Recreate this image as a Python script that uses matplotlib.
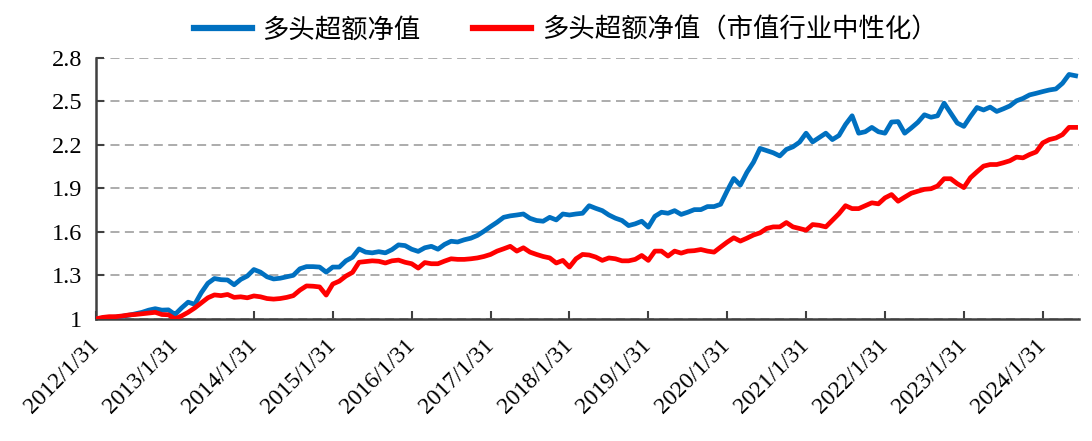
import numpy as np
import pandas as pd
import matplotlib
matplotlib.use("Agg")
import matplotlib.pyplot as plt

# ── 1. Data (monthly) ─────────────────────────────────────────────────────────
dates = pd.date_range("2012-01-31", periods=150, freq="ME")

blue_nav = [
    1.000, 1.005, 1.008, 1.012, 1.018, 1.025, 1.035, 1.045, 1.060, 1.070,
    1.060, 1.062, 1.030, 1.075, 1.115, 1.100, 1.180, 1.245, 1.278, 1.270,
    1.268, 1.235, 1.272, 1.295, 1.340, 1.322, 1.290, 1.275, 1.280, 1.290,
    1.300, 1.345, 1.360, 1.360, 1.357, 1.322, 1.357, 1.357, 1.400, 1.425,
    1.482, 1.460, 1.455, 1.463, 1.455, 1.477, 1.510, 1.505, 1.480, 1.465,
    1.490, 1.500, 1.480, 1.513, 1.535, 1.530, 1.545, 1.556, 1.575, 1.604,
    1.636, 1.666, 1.700, 1.710, 1.716, 1.723, 1.693, 1.678, 1.673, 1.700,
    1.682, 1.723, 1.716, 1.723, 1.728, 1.780, 1.762, 1.746, 1.716, 1.694,
    1.678, 1.643, 1.655, 1.673, 1.632, 1.707, 1.735, 1.728, 1.746, 1.720,
    1.735, 1.753, 1.753, 1.774, 1.774, 1.790, 1.883, 1.968, 1.922, 2.010,
    2.080, 2.175, 2.160, 2.145, 2.123, 2.168, 2.186, 2.218, 2.280, 2.220,
    2.250, 2.280, 2.236, 2.264, 2.340, 2.400, 2.280, 2.290, 2.320, 2.290,
    2.280, 2.357, 2.360, 2.280, 2.316, 2.355, 2.407, 2.390, 2.400, 2.487,
    2.418, 2.350, 2.327, 2.395, 2.457, 2.440, 2.460, 2.430, 2.448, 2.468,
    2.503, 2.520, 2.544, 2.555, 2.567, 2.578, 2.585, 2.624, 2.685, 2.676,
]

red_nav = [
    1.000, 1.010, 1.015, 1.015, 1.020, 1.027, 1.030, 1.035, 1.040, 1.045,
    1.030, 1.028, 1.000, 1.020, 1.045, 1.075, 1.110, 1.145, 1.165, 1.160,
    1.168, 1.148, 1.152, 1.145, 1.158, 1.152, 1.140, 1.136, 1.140, 1.148,
    1.160, 1.198, 1.227, 1.225, 1.220, 1.164, 1.240, 1.260, 1.295, 1.320,
    1.390, 1.395, 1.400, 1.397, 1.385, 1.400, 1.405, 1.390, 1.380, 1.350,
    1.388, 1.380, 1.380, 1.398, 1.414, 1.410, 1.410, 1.414, 1.420, 1.430,
    1.444, 1.467, 1.483, 1.500, 1.467, 1.490, 1.460, 1.444, 1.430, 1.420,
    1.385, 1.403, 1.357, 1.414, 1.444, 1.440, 1.426, 1.403, 1.420, 1.414,
    1.400, 1.400, 1.410, 1.437, 1.403, 1.467, 1.467, 1.433, 1.467, 1.453,
    1.467, 1.470, 1.478, 1.467, 1.460, 1.495, 1.529, 1.559, 1.536, 1.556,
    1.578, 1.593, 1.623, 1.634, 1.634, 1.664, 1.634, 1.623, 1.611, 1.650,
    1.645, 1.634, 1.680, 1.725, 1.780, 1.760, 1.760, 1.780, 1.800, 1.793,
    1.834, 1.857, 1.811, 1.839, 1.866, 1.880, 1.893, 1.897, 1.916, 1.966,
    1.966, 1.932, 1.905, 1.973, 2.014, 2.053, 2.064, 2.064, 2.076, 2.090,
    2.115, 2.110, 2.133, 2.151, 2.213, 2.236, 2.247, 2.270, 2.320, 2.320,
]

labels = ["多头超额净值", "多头超额净值（市值行业中性化）"]
y_ticks = [1, 1.3, 1.6, 1.9, 2.2, 2.5, 2.8]
y_tick_labels = ["1", "1.3", "1.6", "1.9", "2.2", "2.5", "2.8"]

# ── 2. Figure ─────────────────────────────────────────────────────────────────
plt.rcParams["font.family"] = ["Liberation Serif", "Noto Sans CJK SC"]

fig = plt.figure(figsize=(10.92, 4.41), dpi=100)
ax = fig.add_axes([0.088, 0.277, 0.900, 0.592])

x = np.arange(len(dates))
ax.plot(x, blue_nav, color="#0070C0", lw=3.4, label=labels[0], zorder=3)
ax.plot(x, red_nav,  color="#FF0000", lw=3.4, label=labels[1], zorder=3)

# ── 3. Axes styling ───────────────────────────────────────────────────────────
ax.set_xlim(0, 149.5)
ax.set_ylim(1, 2.8)
ax.set_yticks(y_ticks)
ax.set_yticklabels(y_tick_labels)

year_pos = [i for i, d in enumerate(dates) if d.month == 1]
ax.set_xticks(year_pos)
ax.set_xticklabels([f"{dates[i].year}/1/31" for i in year_pos],
                   rotation=45, ha="right", va="center", rotation_mode="anchor")

ax.tick_params(axis="both", direction="in", length=6, width=1.5,
               color="#404040", labelsize=17.5)
ax.tick_params(axis="x", labelsize=17, pad=17)
ax.tick_params(axis="y", pad=10)

for side in ["top", "right"]:
    ax.spines[side].set_visible(False)
for side in ["left", "bottom"]:
    ax.spines[side].set_color("#404040")
    ax.spines[side].set_linewidth(1.8)

ax.yaxis.grid(True, linestyle=(0, (5, 3)), color="#A6A6A6", linewidth=1.3)
ax.set_axisbelow(True)

# ── 4. Legend ─────────────────────────────────────────────────────────────────
leg = fig.legend(loc="center", bbox_to_anchor=(0.518, 0.932), ncol=2,
                 frameon=False, handlelength=2.2, handletextpad=0.4,
                 columnspacing=2.0,
                 prop={"family": ["Noto Sans CJK SC"], "size": 19})
for line in leg.get_lines():
    line.set_linewidth(4.5)

plt.savefig("out.png", dpi=100)
